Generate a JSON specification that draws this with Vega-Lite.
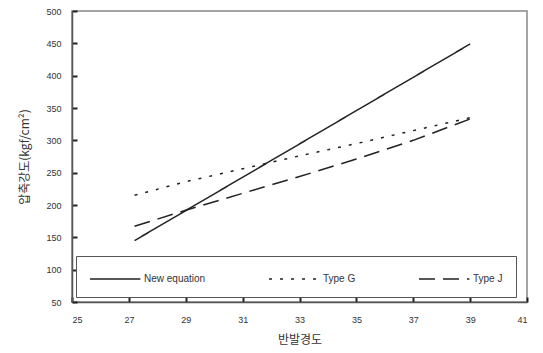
{
  "$schema": "https://vega.github.io/schema/vega-lite/v6.json",
  "autosize": "none",
  "width": 455,
  "height": 291,
  "padding": {"left": 72, "top": 11, "right": 16, "bottom": 51},
  "background": "white",
  "config": {
    "font": "Liberation Sans",
    "view": {"stroke": "#888", "strokeWidth": 1.5},
    "axis": {"grid": false, "ticks": true, "domainColor": "#555", "domainWidth": 1.5, "tickColor": "#222", "tickWidth": 2, "tickOpacity": 1, "labelColor": "#333", "titleColor": "#333", "labelFontSize": 9, "titleFontSize": 12, "titleFontWeight": "normal", "labelFont": "Liberation Sans", "titleFont": "Noto Sans CJK KR"}
  },
  "data": {"values": [
    {"x": 27.2, "y": 145, "s": "New equation"},
    {"x": 39, "y": 449, "s": "New equation"},
    {"x": 27.2, "y": 215, "s": "Type G"},
    {"x": 29, "y": 236, "s": "Type G"},
    {"x": 31, "y": 256, "s": "Type G"},
    {"x": 33, "y": 276, "s": "Type G"},
    {"x": 35, "y": 295, "s": "Type G"},
    {"x": 37, "y": 315, "s": "Type G"},
    {"x": 39, "y": 335, "s": "Type G"},
    {"x": 27.2, "y": 167, "s": "Type J"},
    {"x": 29, "y": 192, "s": "Type J"},
    {"x": 31, "y": 218, "s": "Type J"},
    {"x": 33, "y": 244, "s": "Type J"},
    {"x": 35, "y": 271, "s": "Type J"},
    {"x": 37, "y": 300, "s": "Type J"},
    {"x": 39, "y": 333, "s": "Type J"}
  ]},
  "mark": {"type": "line", "color": "#222", "strokeWidth": 1.5},
  "encoding": {
    "x": {"field": "x", "type": "quantitative", "title": "반발경도",
      "scale": {"domain": [25, 41], "nice": false, "zero": false},
      "axis": {"values": [25, 27, 29, 31, 33, 35, 37, 39, 41], "tickSize": -5, "labelPadding": 18, "titlePadding": 10}},
    "y": {"field": "y", "type": "quantitative", "title": "압축강도(kgf/cm²)",
      "scale": {"domain": [50, 500], "nice": false, "zero": false},
      "axis": {"values": [50, 100, 150, 200, 250, 300, 350, 400, 450, 500], "tickSize": -5, "labelPadding": 16, "titlePadding": 14}},
    "strokeDash": {"field": "s", "type": "nominal",
      "scale": {"domain": ["New equation", "Type G", "Type J"], "range": [[1, 0], [3, 8], [16, 8]]},
      "legend": {"title": null, "orient": "none", "legendX": 4, "legendY": 245, "direction": "horizontal", "columns": 3,
        "symbolType": "M-1,0H4.6", "symbolSize": 324, "symbolStrokeColor": "#222", "symbolFillColor": "transparent", "symbolStrokeWidth": 1.5,
        "labelFontSize": 10, "labelColor": "#333", "columnPadding": 60, "padding": 13, "strokeColor": "#555", "fillColor": "white", "labelOffset": 35}}
  }
}
